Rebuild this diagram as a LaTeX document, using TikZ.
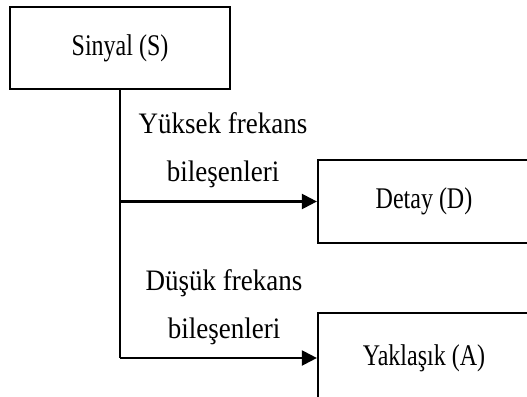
\documentclass[tikz,border=0pt]{standalone}
\usepackage{fontspec}
\setmainfont{Liberation Serif}
\usetikzlibrary{arrows.meta}
\begin{document}
\begin{tikzpicture}[x=1pt,y=-1pt,
  box/.style={draw,line width=2.2pt,minimum width=212pt,inner sep=0pt,
    font=\fontsize{24}{28}\selectfont},
  lbl/.style={align=center,font=\fontsize{27}{44}\selectfont,yscale=1.1},
  flow/.style={line width=2.2pt},
  arr/.style={flow,-{Triangle[length=15pt,width=15pt]}}]
\useasboundingbox (0,0) rectangle (527,396);
\clip (0,0) rectangle (527,396);
% source block
\node[box,minimum width=220pt,minimum height=82pt] (S) at (120,48) {\scalebox{1}[1.25]{Sinyal (S)}};
% output blocks, running past the right edge
\node[box,minimum height=83pt] (D) at (424,201.5) {\scalebox{1}[1.25]{Detay (D)}};
\node[box,minimum height=90pt] (A) at (424,358) {\scalebox{1}[1.25]{Yaklaşık (A)}};
% branch labels
\node[lbl] (hi) at (223,150) {Yüksek frekans\\bileşenleri};
\node[lbl] (lo) at (224,307) {Düşük frekans\\bileşenleri};
% connectors
\draw[flow] (S.south) -- (S.south |- A.west);
\draw[arr] (S.south |- A.west) -- (A.west);
\draw[arr] (S.south |- D.west) -- (D.west);
\end{tikzpicture}
\end{document}
